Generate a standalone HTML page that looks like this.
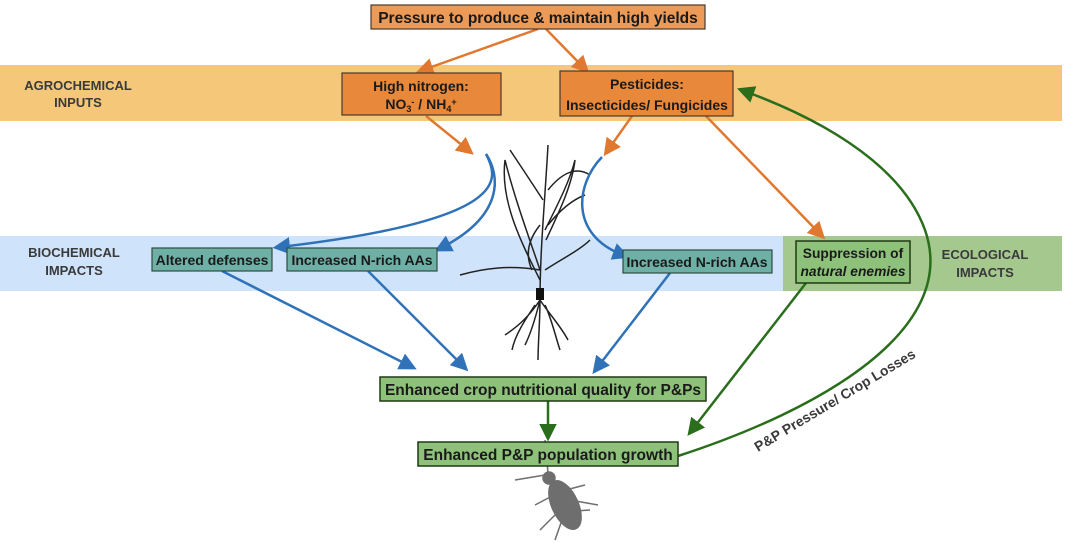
<!DOCTYPE html>
<html><head><meta charset="utf-8"><style>
body{margin:0;background:#fff;}
svg{display:block;font-family:"Liberation Sans",Arial,sans-serif;font-weight:bold;}
</style></head><body>
<svg width="1084" height="543" viewBox="0 0 1084 543">
<defs>
<marker id="ao" markerWidth="7" markerHeight="7" refX="4" refY="3.5" orient="auto" markerUnits="strokeWidth"><path d="M0,0 L7,3.5 L0,7 z" fill="#e0782f"/></marker>
<marker id="ab" markerWidth="7" markerHeight="7" refX="4" refY="3.5" orient="auto" markerUnits="strokeWidth"><path d="M0,0 L7,3.5 L0,7 z" fill="#2f72b8"/></marker>
<marker id="ag" markerWidth="7" markerHeight="7" refX="4" refY="3.5" orient="auto" markerUnits="strokeWidth"><path d="M0,0 L7,3.5 L0,7 z" fill="#2a6e1c"/></marker>
</defs>
<rect x="0" y="65" width="1062" height="56" fill="#f5c879"/>
<rect x="0" y="236" width="783" height="55" fill="#cfe4fa"/>
<rect x="783" y="236" width="279" height="55" fill="#a4c88d"/>
<g fill="#3a3a3a" font-size="13" text-anchor="middle">
<text x="78" y="90">AGROCHEMICAL</text><text x="78" y="107">INPUTS</text>
<text x="74" y="257">BIOCHEMICAL</text><text x="74" y="275">IMPACTS</text>
<text x="985" y="259">ECOLOGICAL</text><text x="985" y="277">IMPACTS</text>
</g>
<g stroke="#222" fill="none" stroke-width="1.5">
<path d="M540,300 C540,250 545,200 548,145"/>
<path d="M540,280 C520,240 500,200 505,160 C515,200 530,240 540,270"/>
<path d="M545,230 C560,200 570,180 575,160 C572,185 560,210 546,240"/>
<path d="M543,200 C530,180 520,165 510,150"/>
<path d="M548,190 C560,175 575,165 590,175"/>
<path d="M540,270 C510,265 485,268 460,275"/>
<path d="M532,270 C525,255 528,240 540,225"/>
<path d="M545,270 C560,260 580,250 590,240"/>
<path d="M548,225 C560,210 572,200 585,195"/>
<path d="M540,300 C530,315 520,325 505,335 M540,300 C540,320 538,345 538,360 M540,300 C550,315 560,325 568,340 M535,305 C525,320 515,335 512,350 M545,305 C552,320 555,335 560,350 M540,300 C535,320 530,335 525,345"/>
</g>
<rect x="536" y="288" width="8" height="12" fill="#111"/>
<g fill="#6e6e6e" stroke="#6e6e6e" stroke-width="1.5">
<ellipse cx="565" cy="505" rx="13" ry="26" transform="rotate(-25 565 505)"/>
<circle cx="549" cy="478" r="6"/>
<path d="M545,475 L515,480 M548,473 L545,440 M558,492 L585,485 M554,495 L535,505 M560,512 L590,510 M555,515 L540,530 M562,520 L555,540 M570,500 L598,505" fill="none"/>
</g>
<g stroke="#e0782f" stroke-width="2.5" fill="none">
<path d="M538,29 L423,70" marker-end="url(#ao)"/>
<path d="M546,29 L584,68" marker-end="url(#ao)"/>
<path d="M426,116 L468,150" marker-end="url(#ao)"/>
<path d="M632,116 L608,150" marker-end="url(#ao)"/>
<path d="M706,116 L820,234" marker-end="url(#ao)"/>
</g>
<g stroke="#2f72b8" stroke-width="2.5" fill="none">
<path d="M486,154 C500,180 510,220 280,247" marker-end="url(#ab)"/>
<path d="M486,154 C500,175 505,215 441,248" marker-end="url(#ab)"/>
<path d="M602,157 C575,185 570,235 623,255" marker-end="url(#ab)"/>
<path d="M222,271 L410,366" marker-end="url(#ab)"/>
<path d="M368,271 L463,366" marker-end="url(#ab)"/>
<path d="M670,273 L597,368" marker-end="url(#ab)"/>
</g>
<g stroke="#2a6e1c" stroke-width="2.5" fill="none">
<path d="M548,401 L548,434" marker-end="url(#ag)"/>
<path d="M806,283 L692,430" marker-end="url(#ag)"/>
<path d="M678,456 C820,410 960,330 925,230 C900,160 810,115 744,91" marker-end="url(#ag)"/>
</g>
<text x="0" y="0" font-size="14" fill="#3a3a3a" transform="translate(758,452) rotate(-31)">P&amp;P Pressure/ Crop Losses</text>
<g stroke="#4a3a2a" stroke-width="1.2">
<rect x="371" y="5" width="334" height="24" fill="#eb9a58"/>
<rect x="342" y="73" width="159" height="42" fill="#e8883a"/>
<rect x="560" y="71" width="173" height="45" fill="#e8883a"/>
</g>
<g stroke="#2d4d3e" stroke-width="1.2" fill="#6fb0a6">
<rect x="152" y="248" width="120" height="23"/>
<rect x="287" y="248" width="150" height="23"/>
<rect x="623" y="250" width="149" height="23"/>
</g>
<g stroke="#1f3a12" stroke-width="1.5" fill="#8ec27a">
<rect x="796" y="241" width="114" height="42"/>
<rect x="380" y="377" width="326" height="24"/>
<rect x="418" y="442" width="260" height="24"/>
</g>
<g fill="#1a1a1a" font-size="14" text-anchor="middle">
<text x="538" y="23" font-size="15.5">Pressure to produce &amp; maintain high yields</text>
<text x="421" y="91">High nitrogen:</text>
<text x="421" y="109">NO<tspan font-size="9" dy="3">3</tspan><tspan font-size="9" dy="-7">-</tspan><tspan dy="4"> / NH</tspan><tspan font-size="9" dy="3">4</tspan><tspan font-size="9" dy="-7">+</tspan></text>
<text x="647" y="89">Pesticides:</text>
<text x="647" y="110">Insecticides/ Fungicides</text>
<text x="212" y="265">Altered defenses</text>
<text x="362" y="265">Increased N-rich AAs</text>
<text x="697" y="267">Increased N-rich AAs</text>
<text x="853" y="258" font-size="13.8">Suppression of</text>
<text x="853" y="276" font-size="13.8" font-style="italic">natural enemies</text>
<text x="543" y="395" font-size="15.5">Enhanced crop nutritional quality for P&amp;Ps</text>
<text x="548" y="460" font-size="15.5">Enhanced P&amp;P population growth</text>
</g>
</svg>
</body></html>
